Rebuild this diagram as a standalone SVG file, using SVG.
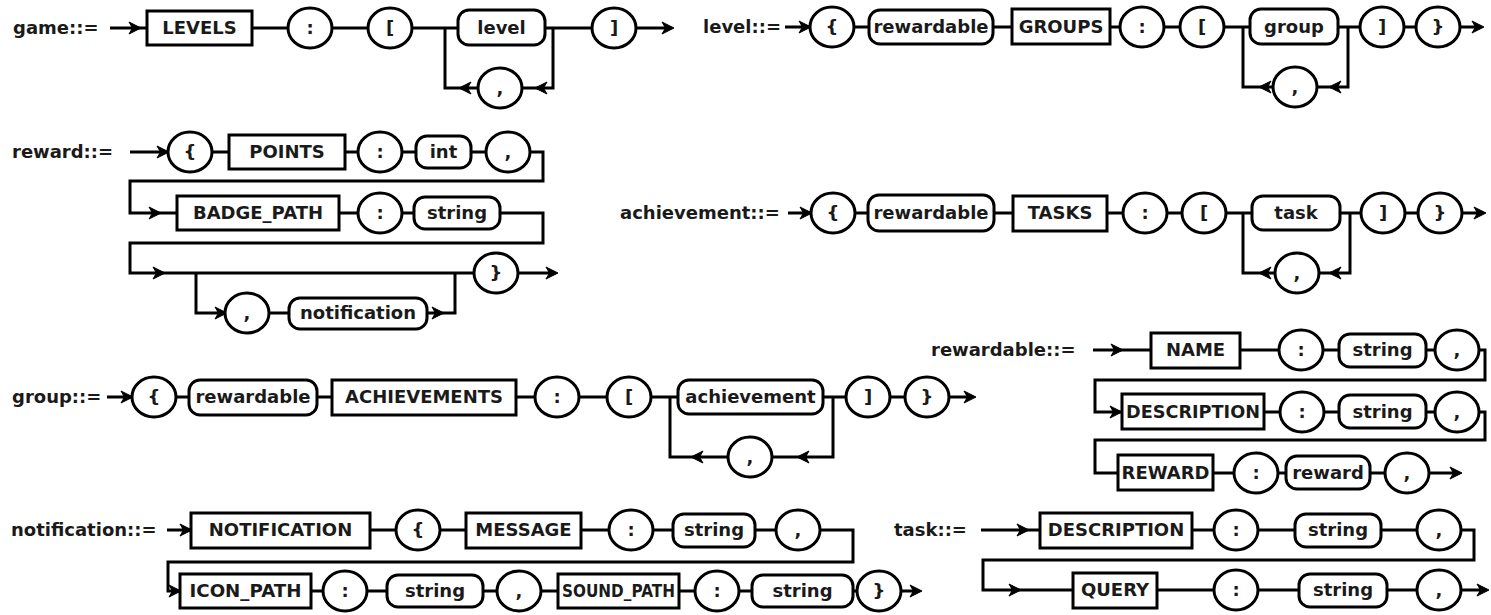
<svg xmlns="http://www.w3.org/2000/svg" xmlns:xlink="http://www.w3.org/1999/xlink" width="1491" height="615" viewBox="0 0 1491 615">
<style>
text{font-family:"DejaVu Sans","Liberation Sans",sans-serif;font-weight:bold;font-size:18px;fill:#1a1a1a}
.c{text-anchor:middle}
.b{fill:#fff;stroke:#000;stroke-width:3}
.ln{fill:none;stroke:#000;stroke-width:3}
.ah{fill:#000;stroke:#000;stroke-width:1;stroke-linejoin:miter}
</style>
<defs>
<path id="ar" class="ah" d="M1,0 L-11,-6 L-7.5,0 L-11,6 Z"/>
<path id="al" class="ah" d="M-1,0 L11,-6 L7.5,0 L11,6 Z"/>
</defs>
<rect width="1491" height="615" fill="#fff"/>
<g id="connectors">
<path class="ln" d="M110,28 H147 M252,28 H288 M332,28 H368 M412,28 H458 M545,28 H592 M636,28 H671 M445,28 V88 H478 M553,28 V88 H522"/>
<path class="ln" d="M785,27 H810 M854,27 H869 M993,27 H1012 M1110,27 H1120 M1164,27 H1180 M1224,27 H1250 M1338,27 H1360 M1404,27 H1416 M1460,27 H1481 M1243,27 V87 H1273 M1348,27 V87 H1317"/>
<path class="ln" d="M130,152 H168 M212,152 H229 M345,152 H358 M402,152 H416 M471,152 H486 M530,152 H543 V181 H130 V213 H177 M339,213 H358 M402,213 H414 M500,213 H543 V243 H130 V273 H474 M518,273 H555 M196,273 V313 H226 M269,313 H289 M427,313 H455 V273"/>
<path class="ln" d="M788,213 H811 M855,213 H868 M994,213 H1013 M1107,213 H1123 M1167,213 H1182 M1226,213 H1252 M1340,213 H1361 M1405,213 H1418 M1462,213 H1483 M1243,213 V273 H1275 M1350,213 V273 H1319"/>
<path class="ln" d="M107,397 H132 M176,397 H189 M317,397 H332 M516,397 H535 M579,397 H607 M651,397 H678 M823,397 H846 M890,397 H905 M949,397 H973 M670,397 V457 H728 M833,397 V457 H772"/>
<path class="ln" d="M1093,350 H1151 M1240,350 H1279 M1323,350 H1339 M1426,350 H1435 M1479,350 H1485 V380 H1095 V412 H1122 M1264,412 H1280 M1324,412 H1339 M1426,412 H1435 M1479,412 H1485 V440 H1095 V473 H1118 M1213,473 H1234 M1278,473 H1286 M1370,473 H1385 M1429,473 H1459"/>
<path class="ln" d="M167,530 H191 M370,530 H396 M440,530 H466 M581,530 H609 M653,530 H673 M755,530 H776 M820,530 H853 V562 H168 V591 H180 M311,591 H323 M367,591 H387 M483,591 H497 M541,591 H558 M679,591 H695 M739,591 H752 M853,591 H857 M901,591 H919"/>
<path class="ln" d="M981,530 H1040 M1192,530 H1214 M1258,530 H1295 M1381,530 H1417 M1461,530 H1474 V560 H983 V590 H1073 M1157,590 H1214 M1258,590 H1299 M1387,590 H1417 M1461,590 H1486"/>
<use xlink:href="#ar" x="140" y="28"/><use xlink:href="#al" x="460" y="88"/><use xlink:href="#al" x="536" y="88"/><use xlink:href="#ar" x="673" y="28"/>
<use xlink:href="#ar" x="810" y="27"/><use xlink:href="#al" x="1260" y="87"/><use xlink:href="#al" x="1330" y="87"/><use xlink:href="#ar" x="1483" y="27"/>
<use xlink:href="#ar" x="168" y="152"/><use xlink:href="#ar" x="160" y="213"/><use xlink:href="#ar" x="164" y="273"/><use xlink:href="#ar" x="226" y="313"/><use xlink:href="#ar" x="443" y="313"/><use xlink:href="#ar" x="557" y="273"/>
<use xlink:href="#ar" x="811" y="213"/><use xlink:href="#al" x="1260" y="273"/><use xlink:href="#al" x="1330" y="273"/><use xlink:href="#ar" x="1485" y="213"/>
<use xlink:href="#ar" x="132" y="397"/><use xlink:href="#al" x="692" y="457"/><use xlink:href="#al" x="798" y="457"/><use xlink:href="#ar" x="975" y="397"/>
<use xlink:href="#ar" x="1122" y="350"/><use xlink:href="#ar" x="1121" y="412"/><use xlink:href="#ar" x="1461" y="473"/>
<use xlink:href="#ar" x="191" y="530"/><use xlink:href="#ar" x="180" y="591"/><use xlink:href="#ar" x="921" y="591"/>
<use xlink:href="#ar" x="1028" y="530"/><use xlink:href="#ar" x="1020" y="590"/><use xlink:href="#ar" x="1488" y="590"/>
</g>

<!-- game -->
<g id="game-label"><text x="13" y="34">game::=</text></g>
<g id="game-LEVELS"><rect class="b" x="147" y="11" width="105" height="34"/><text class="c" x="199.5" y="34">LEVELS</text></g>
<g id="game-colon"><ellipse class="b" cx="310" cy="28" rx="22" ry="20"/><text class="c" x="310" y="34">:</text></g>
<g id="game-lbracket"><ellipse class="b" cx="390" cy="28" rx="22" ry="20"/><text class="c" x="390" y="34">[</text></g>
<g id="game-level"><rect class="b" x="458" y="10" width="87" height="35" rx="11"/><text class="c" x="501.5" y="34">level</text></g>
<g id="game-comma"><ellipse class="b" cx="500" cy="88" rx="22" ry="20"/><text class="c" x="500" y="94">,</text></g>
<g id="game-rbracket"><ellipse class="b" cx="614" cy="28" rx="22" ry="20"/><text class="c" x="614" y="34">]</text></g>

<!-- level -->
<g id="level-label"><text x="703" y="33">level::=</text></g>
<g id="level-lbrace"><ellipse class="b" cx="832" cy="27" rx="22" ry="20"/><text class="c" x="832" y="33">{</text></g>
<g id="level-rewardable"><rect class="b" x="869" y="10" width="124" height="34" rx="11"/><text class="c" x="931" y="33">rewardable</text></g>
<g id="level-GROUPS"><rect class="b" x="1012" y="9" width="98" height="35"/><text class="c" x="1061" y="33">GROUPS</text></g>
<g id="level-colon"><ellipse class="b" cx="1142" cy="27" rx="22" ry="20"/><text class="c" x="1142" y="33">:</text></g>
<g id="level-lbracket"><ellipse class="b" cx="1202" cy="27" rx="22" ry="20"/><text class="c" x="1202" y="33">[</text></g>
<g id="level-group"><rect class="b" x="1250" y="9" width="88" height="35" rx="11"/><text class="c" x="1294" y="33">group</text></g>
<g id="level-comma"><ellipse class="b" cx="1295" cy="87" rx="22" ry="20"/><text class="c" x="1295" y="93">,</text></g>
<g id="level-rbracket"><ellipse class="b" cx="1382" cy="27" rx="22" ry="20"/><text class="c" x="1382" y="33">]</text></g>
<g id="level-rbrace"><ellipse class="b" cx="1438" cy="27" rx="22" ry="20"/><text class="c" x="1438" y="33">}</text></g>

<!-- reward -->
<g id="reward-label"><text x="12" y="158">reward::=</text></g>
<g id="reward-lbrace"><ellipse class="b" cx="190" cy="152" rx="22" ry="20"/><text class="c" x="190" y="158">{</text></g>
<g id="reward-POINTS"><rect class="b" x="229" y="135" width="116" height="34"/><text class="c" x="287" y="158">POINTS</text></g>
<g id="reward-colon1"><ellipse class="b" cx="380" cy="152" rx="22" ry="20"/><text class="c" x="380" y="158">:</text></g>
<g id="reward-int"><rect class="b" x="416" y="136" width="55" height="32" rx="11"/><text class="c" x="443.5" y="158">int</text></g>
<g id="reward-comma1"><ellipse class="b" cx="508" cy="152" rx="22" ry="20"/><text class="c" x="508" y="158">,</text></g>
<g id="reward-BADGE_PATH"><rect class="b" x="177" y="196" width="162" height="34"/><text class="c" x="258" y="219">BADGE_PATH</text></g>
<g id="reward-colon2"><ellipse class="b" cx="380" cy="213" rx="22" ry="20"/><text class="c" x="380" y="219">:</text></g>
<g id="reward-string"><rect class="b" x="414" y="197" width="86" height="32" rx="11"/><text class="c" x="457" y="219">string</text></g>
<g id="reward-comma2"><ellipse class="b" cx="247" cy="313" rx="22" ry="20"/><text class="c" x="247" y="319">,</text></g>
<g id="reward-notification"><rect class="b" x="289" y="298" width="138" height="31" rx="11"/><text class="c" x="358" y="319">notification</text></g>
<g id="reward-rbrace"><ellipse class="b" cx="496" cy="273" rx="22" ry="20"/><text class="c" x="496" y="279">}</text></g>

<!-- achievement -->
<g id="achievement-label"><text x="620" y="219">achievement::=</text></g>
<g id="achievement-lbrace"><ellipse class="b" cx="833" cy="213" rx="22" ry="20"/><text class="c" x="833" y="219">{</text></g>
<g id="achievement-rewardable"><rect class="b" x="868" y="195" width="126" height="36" rx="11"/><text class="c" x="931" y="219">rewardable</text></g>
<g id="achievement-TASKS"><rect class="b" x="1013" y="196" width="94" height="35"/><text class="c" x="1060" y="219">TASKS</text></g>
<g id="achievement-colon"><ellipse class="b" cx="1145" cy="213" rx="22" ry="20"/><text class="c" x="1145" y="219">:</text></g>
<g id="achievement-lbracket"><ellipse class="b" cx="1204" cy="213" rx="22" ry="20"/><text class="c" x="1204" y="219">[</text></g>
<g id="achievement-task"><rect class="b" x="1252" y="196" width="88" height="34" rx="11"/><text class="c" x="1296" y="219">task</text></g>
<g id="achievement-comma"><ellipse class="b" cx="1297" cy="273" rx="22" ry="20"/><text class="c" x="1297" y="279">,</text></g>
<g id="achievement-rbracket"><ellipse class="b" cx="1383" cy="213" rx="22" ry="20"/><text class="c" x="1383" y="219">]</text></g>
<g id="achievement-rbrace"><ellipse class="b" cx="1440" cy="213" rx="22" ry="20"/><text class="c" x="1440" y="219">}</text></g>

<!-- group -->
<g id="group-label"><text x="12" y="403">group::=</text></g>
<g id="group-lbrace"><ellipse class="b" cx="154" cy="397" rx="22" ry="20"/><text class="c" x="154" y="403">{</text></g>
<g id="group-rewardable"><rect class="b" x="189" y="380" width="128" height="35" rx="11"/><text class="c" x="253" y="403">rewardable</text></g>
<g id="group-ACHIEVEMENTS"><rect class="b" x="332" y="380" width="184" height="35"/><text class="c" x="424" y="403">ACHIEVEMENTS</text></g>
<g id="group-colon"><ellipse class="b" cx="557" cy="397" rx="22" ry="20"/><text class="c" x="557" y="403">:</text></g>
<g id="group-lbracket"><ellipse class="b" cx="629" cy="397" rx="22" ry="20"/><text class="c" x="629" y="403">[</text></g>
<g id="group-achievement"><rect class="b" x="678" y="380" width="145" height="34" rx="11"/><text class="c" x="750.5" y="403">achievement</text></g>
<g id="group-comma"><ellipse class="b" cx="750" cy="457" rx="22" ry="20"/><text class="c" x="750" y="463">,</text></g>
<g id="group-rbracket"><ellipse class="b" cx="868" cy="397" rx="22" ry="20"/><text class="c" x="868" y="403">]</text></g>
<g id="group-rbrace"><ellipse class="b" cx="927" cy="397" rx="22" ry="20"/><text class="c" x="927" y="403">}</text></g>

<!-- rewardable -->
<g id="rewardable-label"><text x="931" y="356">rewardable::=</text></g>
<g id="rewardable-NAME"><rect class="b" x="1151" y="333" width="89" height="35"/><text class="c" x="1195.5" y="356">NAME</text></g>
<g id="rewardable-colon1"><ellipse class="b" cx="1301" cy="350" rx="22" ry="20"/><text class="c" x="1301" y="356">:</text></g>
<g id="rewardable-string1"><rect class="b" x="1339" y="334" width="87" height="33" rx="11"/><text class="c" x="1382.5" y="356">string</text></g>
<g id="rewardable-comma1"><ellipse class="b" cx="1457" cy="350" rx="22" ry="20"/><text class="c" x="1457" y="356">,</text></g>
<g id="rewardable-DESCRIPTION"><rect class="b" x="1122" y="394" width="142" height="35"/><text class="c" x="1193" y="418" textLength="134" lengthAdjust="spacingAndGlyphs">DESCRIPTION</text></g>
<g id="rewardable-colon2"><ellipse class="b" cx="1302" cy="412" rx="22" ry="20"/><text class="c" x="1302" y="418">:</text></g>
<g id="rewardable-string2"><rect class="b" x="1339" y="395" width="87" height="33" rx="11"/><text class="c" x="1382.5" y="418">string</text></g>
<g id="rewardable-comma2"><ellipse class="b" cx="1457" cy="412" rx="22" ry="20"/><text class="c" x="1457" y="418">,</text></g>
<g id="rewardable-REWARD"><rect class="b" x="1118" y="455" width="95" height="35"/><text class="c" x="1165.5" y="479">REWARD</text></g>
<g id="rewardable-colon3"><ellipse class="b" cx="1256" cy="473" rx="22" ry="20"/><text class="c" x="1256" y="479">:</text></g>
<g id="rewardable-reward"><rect class="b" x="1286" y="456" width="84" height="33" rx="11"/><text class="c" x="1328" y="479">reward</text></g>
<g id="rewardable-comma3"><ellipse class="b" cx="1407" cy="473" rx="22" ry="20"/><text class="c" x="1407" y="479">,</text></g>

<!-- notification -->
<g id="notification-label"><text x="11" y="536">notification::=</text></g>
<g id="notification-NOTIFICATION"><rect class="b" x="191" y="513" width="179" height="35"/><text class="c" x="280.5" y="536">NOTIFICATION</text></g>
<g id="notification-lbrace"><ellipse class="b" cx="418" cy="530" rx="22" ry="20"/><text class="c" x="418" y="536">{</text></g>
<g id="notification-MESSAGE"><rect class="b" x="466" y="513" width="115" height="35"/><text class="c" x="523.5" y="536">MESSAGE</text></g>
<g id="notification-colon1"><ellipse class="b" cx="631" cy="530" rx="22" ry="20"/><text class="c" x="631" y="536">:</text></g>
<g id="notification-string1"><rect class="b" x="673" y="514" width="82" height="33" rx="11"/><text class="c" x="714" y="536">string</text></g>
<g id="notification-comma1"><ellipse class="b" cx="798" cy="530" rx="22" ry="20"/><text class="c" x="798" y="536">,</text></g>
<g id="notification-ICON_PATH"><rect class="b" x="180" y="574" width="131" height="34"/><text class="c" x="245.5" y="597" textLength="112" lengthAdjust="spacingAndGlyphs">ICON_PATH</text></g>
<g id="notification-colon2"><ellipse class="b" cx="345" cy="591" rx="22" ry="20"/><text class="c" x="345" y="597">:</text></g>
<g id="notification-string2"><rect class="b" x="387" y="575" width="96" height="32" rx="11"/><text class="c" x="435" y="597">string</text></g>
<g id="notification-comma2"><ellipse class="b" cx="519" cy="591" rx="22" ry="20"/><text class="c" x="519" y="597">,</text></g>
<g id="notification-SOUND_PATH"><rect class="b" x="558" y="574" width="121" height="34"/><text class="c" x="618.5" y="597" textLength="113" lengthAdjust="spacingAndGlyphs">SOUND_PATH</text></g>
<g id="notification-colon3"><ellipse class="b" cx="717" cy="591" rx="22" ry="20"/><text class="c" x="717" y="597">:</text></g>
<g id="notification-string3"><rect class="b" x="752" y="575" width="101" height="32" rx="11"/><text class="c" x="802.5" y="597">string</text></g>
<g id="notification-rbrace"><ellipse class="b" cx="879" cy="591" rx="22" ry="20"/><text class="c" x="879" y="597">}</text></g>

<!-- task -->
<g id="task-label"><text x="894" y="536">task::=</text></g>
<g id="task-DESCRIPTION"><rect class="b" x="1040" y="513" width="152" height="35"/><text class="c" x="1116" y="536">DESCRIPTION</text></g>
<g id="task-colon1"><ellipse class="b" cx="1236" cy="530" rx="22" ry="20"/><text class="c" x="1236" y="536">:</text></g>
<g id="task-string1"><rect class="b" x="1295" y="514" width="86" height="33" rx="11"/><text class="c" x="1338" y="536">string</text></g>
<g id="task-comma1"><ellipse class="b" cx="1439" cy="530" rx="22" ry="20"/><text class="c" x="1439" y="536">,</text></g>
<g id="task-QUERY"><rect class="b" x="1073" y="573" width="84" height="35"/><text class="c" x="1115" y="596">QUERY</text></g>
<g id="task-colon2"><ellipse class="b" cx="1236" cy="590" rx="22" ry="20"/><text class="c" x="1236" y="596">:</text></g>
<g id="task-string2"><rect class="b" x="1299" y="574" width="88" height="33" rx="11"/><text class="c" x="1343" y="596">string</text></g>
<g id="task-comma2"><ellipse class="b" cx="1439" cy="590" rx="22" ry="20"/><text class="c" x="1439" y="596">,</text></g>
</svg>
